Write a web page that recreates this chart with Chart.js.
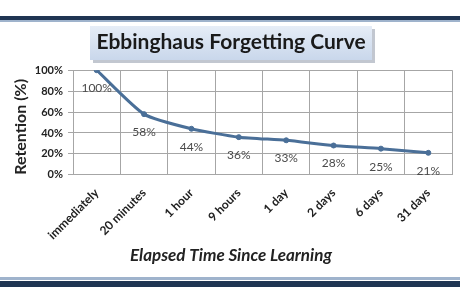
<!DOCTYPE html>
<html>
<head>
<meta charset="utf-8">
<script src="https://cdn.jsdelivr.net/npm/chart.js@4"></script>
<style>
html,body{margin:0;padding:0;background:#fff;}
#wrap{width:460px;height:295px;position:relative;}
</style>
</head>
<body>
<div id="wrap"><canvas id="c" width="460" height="295"></canvas></div>
<script>
const categories = ['immediately','20 minutes','1 hour','9 hours','1 day','2 days','6 days','31 days'];
const retention = [100, 58, 44, 36, 33, 28, 25, 21];
const yTicks = [0, 20, 40, 60, 80, 100];
const chartTitle = 'Ebbinghaus Forgetting Curve';
const yTitle = 'Retention (%)';
const xTitle = 'Elapsed Time Since Learning';

const FONT = 'Lato, "Open Sans", sans-serif';

const decor = {
  id: 'decor',
  beforeDraw(chart) {
    const ctx = chart.ctx;
    ctx.save();
    ctx.fillStyle = '#fff';
    ctx.fillRect(0, 0, chart.width, chart.height);
    // top rules
    ctx.fillStyle = '#1f3553';
    ctx.fillRect(0, 16, chart.width, 4);
    ctx.fillStyle = '#9fb3cc';
    ctx.fillRect(0, 20, chart.width, 2);
    // bottom rules
    ctx.fillStyle = '#9fb3cc';
    ctx.fillRect(0, 277, chart.width, 3);
    ctx.fillStyle = '#1f3553';
    ctx.fillRect(0, 281, chart.width, 6);
    // title box
    const bx = 90, by = 26, bw = 282, bh = 34;
    ctx.fillStyle = 'rgba(120,130,150,0.45)';
    ctx.fillRect(bx + 3, by + 3, bw, bh);
    const g = ctx.createLinearGradient(0, by, 0, by + bh);
    g.addColorStop(0, '#e6edf7');
    g.addColorStop(1, '#c9d7eb');
    ctx.fillStyle = g;
    ctx.fillRect(bx, by, bw, bh);
    ctx.restore();
  },
  afterDatasetsDraw(chart) {
    const ctx = chart.ctx;
    const meta = chart.getDatasetMeta(0);
    ctx.save();
    ctx.font = '12px ' + FONT;
    ctx.fillStyle = '#4a4a4a';
    ctx.textAlign = 'center';
    ctx.textBaseline = 'middle';
    meta.data.forEach((pt, i) => {
      ctx.fillText(retention[i] + '%', pt.x, pt.y + 18);
    });
    ctx.restore();
  }
};

new Chart(document.getElementById('c'), {
  type: 'line',
  data: {
    labels: categories,
    datasets: [{
      data: retention,
      borderColor: '#4a6f98',
      backgroundColor: '#4a6f98',
      borderWidth: 3,
      pointRadius: 2.5,
      pointBorderWidth: 1,
      pointBackgroundColor: '#4a6f98',
      pointBorderColor: '#4a6f98',
      tension: 0.2
    }]
  },
  options: {
    responsive: false,
    animation: false,
    devicePixelRatio: 1,
    layout: { padding: { top: 24, left: 10, right: 8, bottom: 0 } },
    plugins: {
      legend: { display: false },
      tooltip: { enabled: false },
      title: {
        display: true,
        text: chartTitle,
        color: '#1a1a1a',
        font: { family: FONT, size: 21, weight: 'bold' },
        padding: { top: 6, bottom: 15 }
      },
      subtitle: {
        display: true,
        position: 'bottom',
        text: xTitle,
        color: '#222',
        font: { family: FONT, size: 17, weight: 'bold', style: 'italic' },
        padding: { top: 0, bottom: 29 }
      }
    },
    scales: {
      x: {
        type: 'category',
        offset: true,
        afterFit(scale) { scale.height = 70.8; },
        grid: { offset: true, color: '#a6a6a6', lineWidth: 1, drawTicks: false },
        border: { color: '#a6a6a6' },
        ticks: {
          color: '#222',
          font: { family: FONT, size: 12, weight: 'bold' },
          maxRotation: 45, minRotation: 45,
          padding: 11,
          autoSkip: false
        }
      },
      y: {
        min: 0, max: 100,
        afterFit(scale) { scale.width = 63; },
        afterBuildTicks(scale) { scale.ticks = yTicks.map(v => ({ value: v })); },
        grid: { color: '#a6a6a6', lineWidth: 1, tickLength: 5 },
        border: { color: '#a6a6a6' },
        ticks: {
          color: '#222',
          font: { family: FONT, size: 11, weight: 'bold' },
          padding: 5,
          callback: v => v + '%'
        },
        title: {
          display: true,
          text: yTitle,
          align: 'start',
          color: '#222',
          font: { family: FONT, size: 16, weight: 'bold', lineHeight: 1.0 },
          padding: { top: 3, bottom: 0 }
        }
      }
    }
  },
  plugins: [decor]
});
</script>
</body>
</html>
